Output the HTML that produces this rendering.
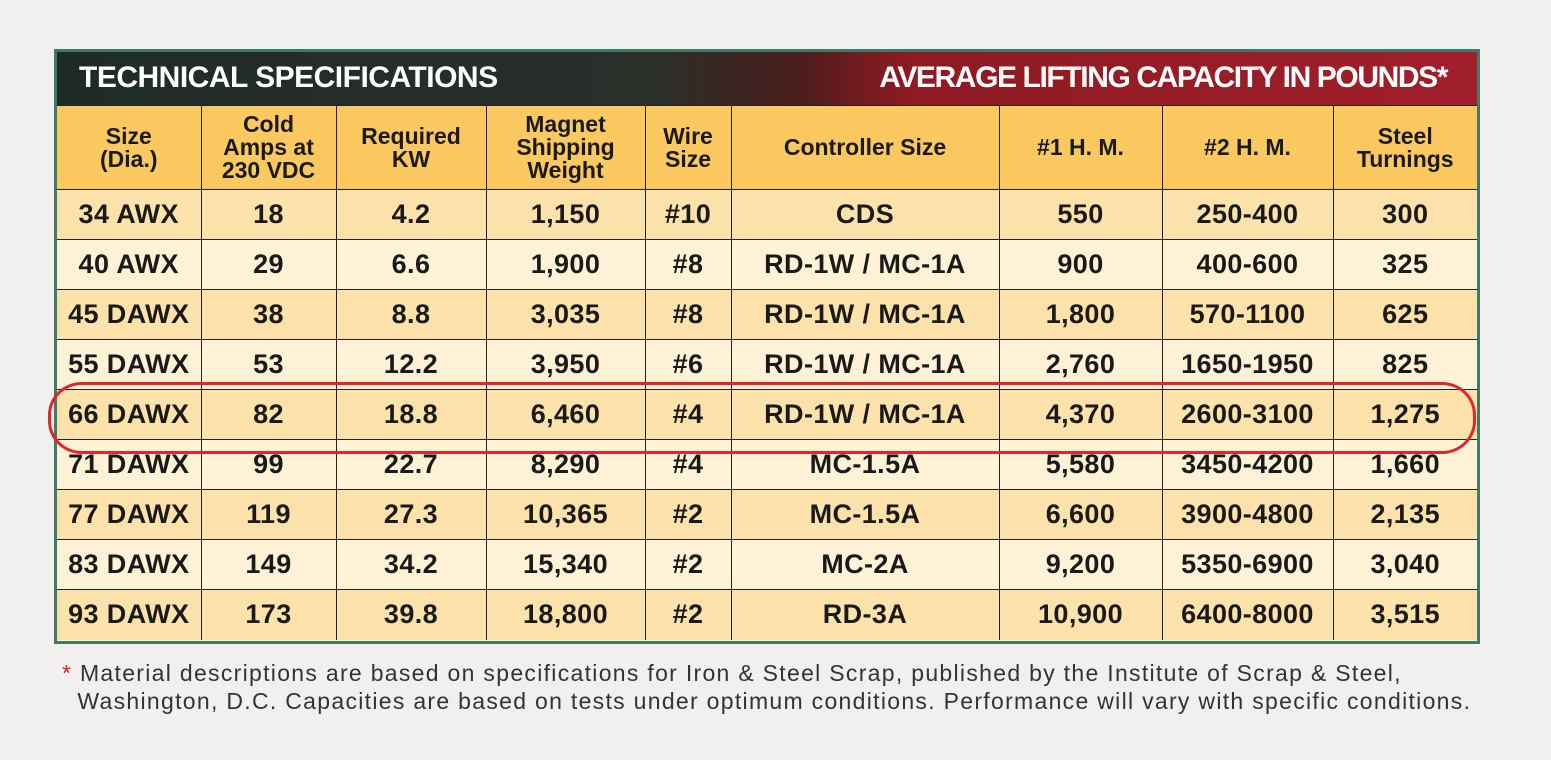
<!DOCTYPE html>
<html><head><meta charset="utf-8"><style>
html,body{margin:0;padding:0}
body{width:1551px;height:760px;background:#f1f0ee;position:relative;overflow:hidden;font-family:"Liberation Sans",sans-serif}
.frame{position:absolute;left:54px;top:49px;width:1420px;height:589px;border:3px solid #3f7a68;background:#fff2d6}
.top{position:absolute;left:0;top:0;width:1420px;height:53px;background:linear-gradient(90deg,#1f2b27 0,#2a2f2a 42%,#4a1e1c 52%,#8e1a22 60%,#a11f2a 100%)}
.top span{position:absolute;top:9px;color:#fff;font-size:30px;font-weight:bold;letter-spacing:-0.5px}
table{position:absolute;left:0;top:53px;border-collapse:collapse;width:1420px;table-layout:fixed}
td{border:1.5px solid #222;text-align:center;font-weight:bold;font-size:27px;letter-spacing:0.4px;color:#1a1a1a;height:50px;padding:0;box-sizing:border-box}
tr{height:50px}
tr.h{height:84px}
tr.h td{background:#fcc860;height:84px;font-size:23px;line-height:23px;letter-spacing:0}
tr:nth-child(even) td{background:#fde3ab}
tr:nth-child(odd):not(.h) td{background:#fff2d6}
tr td:first-child{border-left:none}
tr td:last-child{border-right:none}
tr:last-child td{border-bottom:none}
.ring{position:absolute;left:48px;top:382px;width:1422px;height:66px;border:3px solid #e0262c;border-radius:34px/33px}
.foot{position:absolute;left:62px;top:659px;font-size:23px;letter-spacing:1.3px;color:#333;line-height:28px;white-space:nowrap}
.foot b{color:#d22;font-weight:normal}
</style></head><body>
<div class="frame">
<div class="top"><span style="left:22px">TECHNICAL SPECIFICATIONS</span><span style="right:30px;letter-spacing:-1.4px">AVERAGE LIFTING CAPACITY IN POUNDS*</span></div>
<table>
<colgroup><col style="width:144px"><col style="width:135px"><col style="width:150px"><col style="width:159px"><col style="width:86px"><col style="width:268px"><col style="width:163px"><col style="width:171px"><col style="width:144px"></colgroup>
<tr class="h"><td>Size<br>(Dia.)</td><td>Cold<br>Amps at<br>230 VDC</td><td>Required<br>KW</td><td>Magnet<br>Shipping<br>Weight</td><td>Wire<br>Size</td><td>Controller Size</td><td>#1 H. M.</td><td>#2 H. M.</td><td>Steel<br>Turnings</td></tr>
<tr><td>34 AWX</td><td>18</td><td>4.2</td><td>1,150</td><td>#10</td><td>CDS</td><td>550</td><td>250-400</td><td>300</td></tr>
<tr><td>40 AWX</td><td>29</td><td>6.6</td><td>1,900</td><td>#8</td><td>RD-1W / MC-1A</td><td>900</td><td>400-600</td><td>325</td></tr>
<tr><td>45 DAWX</td><td>38</td><td>8.8</td><td>3,035</td><td>#8</td><td>RD-1W / MC-1A</td><td>1,800</td><td>570-1100</td><td>625</td></tr>
<tr><td>55 DAWX</td><td>53</td><td>12.2</td><td>3,950</td><td>#6</td><td>RD-1W / MC-1A</td><td>2,760</td><td>1650-1950</td><td>825</td></tr>
<tr><td>66 DAWX</td><td>82</td><td>18.8</td><td>6,460</td><td>#4</td><td>RD-1W / MC-1A</td><td>4,370</td><td>2600-3100</td><td>1,275</td></tr>
<tr><td>71 DAWX</td><td>99</td><td>22.7</td><td>8,290</td><td>#4</td><td>MC-1.5A</td><td>5,580</td><td>3450-4200</td><td>1,660</td></tr>
<tr><td>77 DAWX</td><td>119</td><td>27.3</td><td>10,365</td><td>#2</td><td>MC-1.5A</td><td>6,600</td><td>3900-4800</td><td>2,135</td></tr>
<tr><td>83 DAWX</td><td>149</td><td>34.2</td><td>15,340</td><td>#2</td><td>MC-2A</td><td>9,200</td><td>5350-6900</td><td>3,040</td></tr>
<tr><td>93 DAWX</td><td>173</td><td>39.8</td><td>18,800</td><td>#2</td><td>RD-3A</td><td>10,900</td><td>6400-8000</td><td>3,515</td></tr>
</table>
</div>
<div class="ring"></div>
<div class="foot"><b>*</b> Material descriptions are based on specifications for Iron &amp; Steel Scrap, published by the Institute of Scrap &amp; Steel,<br>&nbsp;&nbsp;Washington, D.C. Capacities are based on tests under optimum conditions. Performance will vary with specific conditions.</div>
</body></html>
